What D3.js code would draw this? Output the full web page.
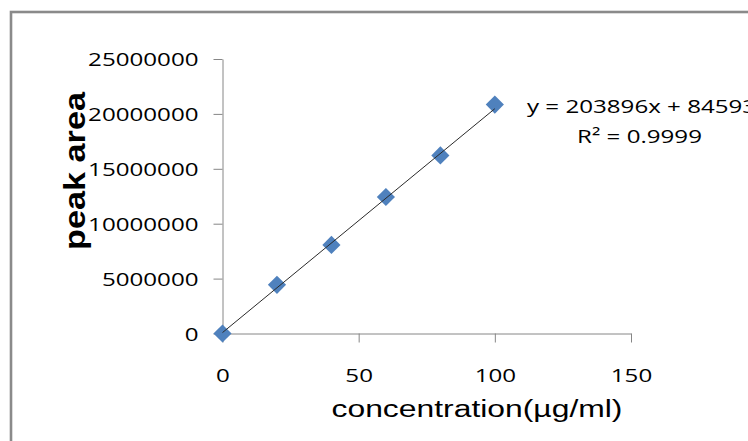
<!DOCTYPE html>
<html>
<head>
<meta charset="utf-8">
<script src="https://cdn.jsdelivr.net/npm/d3@7"></script>
<style>
  html, body { margin: 0; padding: 0; background: #fff; }
  svg { display: block; }
</style>
</head>
<body>
<svg id="grafico" width="748" height="441"></svg>
<script>
// valores
const concentracao = [0, 20, 40, 60, 80, 100];
const areaPico = [0, 4430000, 8070000, 12430000, 16220000, 20850000];
const ticksX = [0, 50, 100, 150];
const ticksY = [0, 5000000, 10000000, 15000000, 20000000, 25000000];
const inclinacao = 203896;
const intercepto = 84593;
const r2 = "0.9999";

const svg = d3.select("#grafico");

// estica o texto na horizontal (a imagem original é mais larga)
function esticar(sel, k) {
  sel.each(function () {
    const w = this.getComputedTextLength();
    d3.select(this).attr("textLength", w * k).attr("lengthAdjust", "spacingAndGlyphs");
  });
}

// moldura externa
svg.append("rect")
  .attr("x", 11).attr("y", 12)
  .attr("width", 900).attr("height", 600)
  .attr("fill", "none")
  .attr("stroke", "#8a8a8a")
  .attr("stroke-width", 2.6);

const x = d3.scaleLinear().domain([0, 150]).range([222.5, 631]);
const y = d3.scaleLinear().domain([0, 25000000]).range([333.5, 59]);

const eixoY = svg.append("g")
  .attr("transform", "translate(222.5,0)")
  .call(d3.axisLeft(y).tickValues(ticksY).tickFormat(d3.format("d")).tickSizeInner(9).tickSizeOuter(0).tickPadding(15));

const eixoX = svg.append("g")
  .attr("transform", "translate(0,333.5)")
  .call(d3.axisBottom(x).tickValues(ticksX).tickSizeInner(9).tickSizeOuter(0).tickPadding(26));

[eixoX, eixoY].forEach(g => {
  g.select(".domain").attr("stroke", "#868686");
  g.selectAll(".tick line").attr("stroke", "#868686");
  g.selectAll(".tick text")
    .attr("fill", "#000")
    .style("font-family", "'Open Sans', sans-serif")
    .style("font-size", "19px");
});
eixoY.selectAll(".tick text").attr("dy", "0.36em");
esticar(eixoY.selectAll(".tick text"), 1.27);
esticar(eixoX.selectAll(".tick text"), 1.27);

// linha de tendência
const linha = d3.line()
  .x(d => x(d))
  .y(d => y(inclinacao * d + intercepto));

// pontos em losango
const losango = d3.symbol().type(d3.symbolSquare).size(165);
svg.append("g")
  .selectAll("path")
  .data(concentracao.map((c, i) => [c, areaPico[i]]))
  .join("path")
  .attr("d", losango)
  .attr("transform", d => `translate(${x(d[0])},${y(d[1])}) rotate(45)`)
  .attr("fill", "#4f81bd");

// a linha passa por cima dos pontos
svg.append("path")
  .datum([0, 100])
  .attr("d", linha)
  .attr("fill", "none")
  .attr("stroke", "#2a2a2a")
  .attr("stroke-width", 1);

// equação
const eq = svg.append("text")
  .attr("x", 527).attr("y", 113)
  .style("font-family", "'Open Sans', sans-serif")
  .style("font-size", "19px")
  .text(`y = ${inclinacao}x + ${intercepto}`);
esticar(eq, 1.27);

const rq = svg.append("text")
  .attr("x", 639.5).attr("y", 143)
  .attr("text-anchor", "middle")
  .style("font-family", "'Open Sans', sans-serif")
  .style("font-size", "19px")
  .text(`R² = ${r2}`);
esticar(rq, 1.27);

// títulos dos eixos
svg.append("text")
  .attr("x", 477).attr("y", 417)
  .attr("text-anchor", "middle")
  .attr("textLength", 291)
  .attr("lengthAdjust", "spacingAndGlyphs")
  .style("font-family", "'Liberation Sans', Arial, sans-serif")
  .style("font-size", "23px")
  .text("concentration(µg/ml)");

svg.append("text")
  .attr("transform", "translate(85,171) rotate(-90)")
  .attr("text-anchor", "middle")
  .attr("textLength", 158)
  .attr("lengthAdjust", "spacingAndGlyphs")
  .style("font-family", "'Liberation Sans', Arial, sans-serif")
  .style("font-size", "29px")
  .style("font-weight", "bold")
  .text("peak area");
</script>
</body>
</html>
